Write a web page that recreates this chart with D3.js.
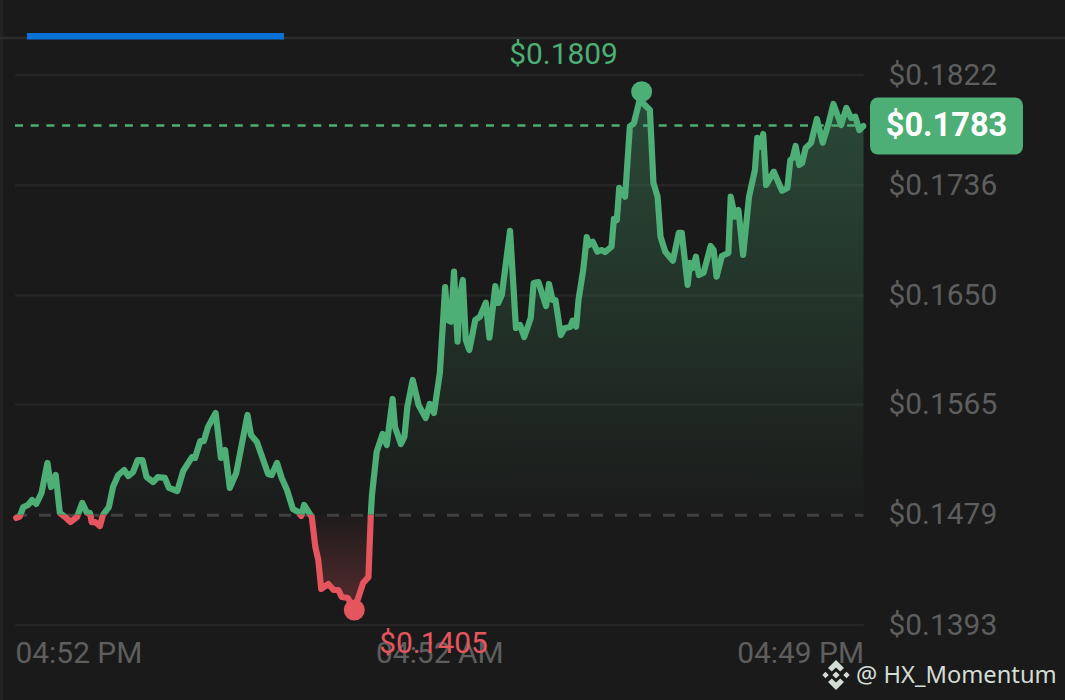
<!DOCTYPE html>
<html>
<head>
<meta charset="utf-8">
<title>Price chart</title>
<script src="https://cdn.jsdelivr.net/npm/d3@7"></script>
<style>
    html, body { margin: 0; padding: 0; background: #1a1a1a; overflow: hidden; }
    text { font-family: Roboto, sans-serif; }
</style>
</head>
<body>
<div id="chart"></div>
<script>
// minutes since the start of the 24h window
const minutes = [
    2, 8, 14, 22, 29, 36, 45, 55, 61, 69, 76, 85, 94, 105, 114, 122, 127, 130, 136, 144,
    149, 159, 166, 175, 185, 192, 200, 208, 216, 223, 234, 242, 254, 261, 275, 285, 300, 305, 314, 320,
    327, 340, 349, 356, 364, 375, 394, 400, 410, 429, 435, 444, 452, 461, 471, 480, 485, 490, 503, 509,
    514, 519, 531, 540, 548, 554, 564, 575, 590, 599, 603, 605, 613, 623, 630, 640, 644, 654, 660, 665,
    674, 684, 696, 703, 710, 720, 729, 733, 739, 744, 750, 754, 759, 764, 770, 780, 788, 798, 804, 814,
    819, 825, 839, 849, 856, 863, 874, 879, 887, 900, 905, 911, 916, 925, 932, 941, 945, 951, 955, 963,
    969, 973, 979, 987, 994, 1000, 1011, 1015, 1020, 1024, 1034, 1042, 1049, 1062, 1064, 1076, 1082, 1089, 1094, 1102,
    1115, 1125, 1130, 1140, 1144, 1149, 1154, 1159, 1167, 1179, 1184, 1189, 1198, 1209, 1213, 1220, 1226, 1234, 1244, 1254,
    1258, 1264, 1268, 1273, 1286, 1300, 1309, 1314, 1318, 1323, 1329, 1334, 1340, 1349, 1359, 1369, 1379, 1387, 1400, 1409,
    1417, 1424, 1431, 1438
];

const prices = [
    0.14765, 0.14776, 0.14850, 0.14866, 0.14905, 0.14874, 0.14960, 0.15194, 0.15006, 0.15100,
    0.14804, 0.14772, 0.14733, 0.14772, 0.14882, 0.14804, 0.14804, 0.14733, 0.14733, 0.14702,
    0.14788, 0.14850, 0.15006, 0.15100, 0.15139, 0.15092, 0.15123, 0.15217, 0.15217, 0.15084,
    0.15045, 0.15084, 0.15077, 0.14999, 0.14975, 0.15131, 0.15240, 0.15233, 0.15365, 0.15365,
    0.15474, 0.15584, 0.15233, 0.15295, 0.14999, 0.15116, 0.15568, 0.15412, 0.15357, 0.15108,
    0.15100, 0.15194, 0.15077, 0.14983, 0.14835, 0.14811, 0.14780, 0.14866, 0.14772, 0.14538,
    0.14437, 0.14211, 0.14250, 0.14203, 0.14203, 0.14148, 0.14141, 0.14047, 0.14258, 0.14304,
    0.14788, 0.14944, 0.15282, 0.15420, 0.15334, 0.15693, 0.15474, 0.15342, 0.15399, 0.15633,
    0.15841, 0.15646, 0.15545, 0.15654, 0.15584, 0.15896, 0.16566, 0.16309, 0.16296, 0.16686,
    0.16140, 0.16491, 0.16621, 0.16153, 0.16075, 0.16309, 0.16335, 0.16444, 0.16171, 0.16574,
    0.16442, 0.16504, 0.17005, 0.16247, 0.16270, 0.16176, 0.16325, 0.16598, 0.16605, 0.16418,
    0.16590, 0.16465, 0.16465, 0.16192, 0.16247, 0.16254, 0.16304, 0.16257, 0.16465, 0.16699,
    0.16956, 0.16894, 0.16920, 0.16842, 0.16855, 0.16839, 0.16882, 0.17097, 0.17089, 0.17339,
    0.17271, 0.17817, 0.17846, 0.18090, 0.18002, 0.17947, 0.17378, 0.17271, 0.16959, 0.16842,
    0.16772, 0.16988, 0.16988, 0.16582, 0.16754, 0.16715, 0.16803, 0.16660, 0.16678, 0.16886,
    0.16855, 0.16647, 0.16808, 0.16832, 0.17271, 0.17115, 0.17167, 0.16816, 0.17271, 0.17479,
    0.17729, 0.17661, 0.17760, 0.17362, 0.17466, 0.17318, 0.17339, 0.17557, 0.17573, 0.17666,
    0.17518, 0.17534, 0.17651, 0.17690, 0.17877, 0.17692, 0.17846, 0.17994, 0.17830, 0.17963,
    0.17885, 0.17895, 0.17791, 0.17822
];

const priceTicks = [0.1822, 0.1736, 0.1650, 0.1565, 0.1479, 0.1393];
const timeTicks = [0, 719, 1438];
const timeLabels = ["04:52 PM", "04:52 AM", "04:49 PM"];
const openPrice = 0.1479;
const lastPrice = 0.1783;
const watermark = "@ HX_Momentum";

const green = "#4dae76";
const red = "#e5555e";
const grey = "#5e5e5e";

const width = 1065;
const height = 700;
const left = 15;
const right = 863.5;

const points = minutes.map((m, i) => ({ minute: m, price: prices[i] }));

const svg = d3.select("#chart")
    .append("svg")
    .attr("width", width)
    .attr("height", height)
    .style("display", "block");

const xScale = d3.scaleLinear().domain([0, 1438]).range([left, right]);
const yScale = d3.scaleLinear().domain([0.1822, 0.1393]).range([75, 625]);

const defs = svg.append("defs");

// fills fade out towards the open price line
const greenFill = defs.append("linearGradient")
    .attr("id", "green-fill")
    .attr("gradientUnits", "userSpaceOnUse")
    .attr("x1", 0).attr("x2", 0)
    .attr("y1", yScale(d3.max(prices))).attr("y2", yScale(openPrice));
greenFill.append("stop").attr("offset", 0).attr("stop-color", green).attr("stop-opacity", 0.32);
greenFill.append("stop").attr("offset", 0.5).attr("stop-color", green).attr("stop-opacity", 0.17);
greenFill.append("stop").attr("offset", 1).attr("stop-color", green).attr("stop-opacity", 0.01);

const redFill = defs.append("linearGradient")
    .attr("id", "red-fill")
    .attr("gradientUnits", "userSpaceOnUse")
    .attr("x1", 0).attr("x2", 0)
    .attr("y1", yScale(openPrice)).attr("y2", yScale(d3.min(prices)));
redFill.append("stop").attr("offset", 0).attr("stop-color", red).attr("stop-opacity", 0.02);
redFill.append("stop").attr("offset", 1).attr("stop-color", red).attr("stop-opacity", 0.3);

defs.append("clipPath").attr("id", "above")
    .append("rect")
    .attr("x", 0).attr("y", 0)
    .attr("width", right + 3).attr("height", yScale(openPrice));

defs.append("clipPath").attr("id", "below")
    .append("rect")
    .attr("x", 0).attr("y", yScale(openPrice))
    .attr("width", right).attr("height", height - yScale(openPrice));

// header strip, tab and frame

svg.append("rect")
    .attr("x", 0).attr("y", 0)
    .attr("width", 3).attr("height", height)
    .attr("fill", "#222222");

svg.append("line")
    .attr("x1", 0).attr("x2", width)
    .attr("y1", 38).attr("y2", 38)
    .attr("stroke", "#2c2c2c")
    .attr("stroke-width", 2.5);

svg.append("rect")
    .attr("x", 27).attr("y", 33)
    .attr("width", 257).attr("height", 6.5)
    .attr("fill", "#0a72d6");

// grid lines

svg.append("g")
    .selectAll("line")
    .data(priceTicks.filter(d => d !== openPrice))
    .enter()
    .append("line")
    .attr("x1", left).attr("x2", right)
    .attr("y1", d => yScale(d)).attr("y2", d => yScale(d))
    .attr("stroke", "#252525")
    .attr("stroke-width", 2.5);

svg.append("line")
    .attr("x1", left).attr("x2", right)
    .attr("y1", yScale(openPrice) + 0.5).attr("y2", yScale(openPrice) + 0.5)
    .attr("stroke", "#3f3f3f")
    .attr("stroke-width", 3)
    .attr("stroke-dasharray", "12 12");

// area and line, split at the open price

const area = d3.area()
    .x(d => xScale(d.minute))
    .y0(yScale(openPrice))
    .y1(d => yScale(d.price));

const line = d3.line()
    .x(d => xScale(d.minute))
    .y(d => yScale(d.price));

svg.append("path")
    .attr("d", area(points))
    .attr("fill", "url(#green-fill)")
    .attr("clip-path", "url(#above)");

svg.append("path")
    .attr("d", area(points))
    .attr("fill", "url(#red-fill)")
    .attr("clip-path", "url(#below)");

[["above", green], ["below", red]].forEach(([clip, colour]) => {
    svg.append("g")
        .attr("clip-path", `url(#${clip})`)
        .append("path")
        .attr("d", line(points))
        .attr("fill", "none")
        .attr("stroke", colour)
        .attr("stroke-width", 6.2)
        .attr("stroke-linejoin", "round")
        .attr("stroke-linecap", "round");
});

svg.append("line")
    .attr("x1", left).attr("x2", right)
    .attr("y1", yScale(lastPrice) + 0.5).attr("y2", yScale(lastPrice) + 0.5)
    .attr("stroke", green)
    .attr("stroke-width", 2.5)
    .attr("stroke-dasharray", "8 7.7");

// high and low markers

const high = points[d3.greatestIndex(points, d => d.price)];
const low = points[d3.leastIndex(points, d => d.price)];

svg.append("circle")
    .attr("cx", xScale(high.minute))
    .attr("cy", yScale(high.price))
    .attr("r", 10.5)
    .attr("fill", green);

svg.append("circle")
    .attr("cx", xScale(low.minute))
    .attr("cy", yScale(low.price))
    .attr("r", 10.5)
    .attr("fill", red);

// axes

const yAxis = d3.axisRight(yScale)
    .tickValues(priceTicks)
    .tickFormat(d3.format("$.4f"))
    .tickSize(0)
    .tickPadding(0);

svg.append("g")
    .attr("id", "y-axis")
    .attr("transform", "translate(888.5, -0.5)")
    .call(yAxis)
    .call(g => g.select(".domain").remove())
    .call(g => g.selectAll("text")
        .attr("fill", grey)
        .style("font-size", "29.9px")
        .style("font-family", "Roboto, sans-serif"));

const xAxis = d3.axisBottom(xScale)
    .tickValues(timeTicks)
    .tickFormat((d, i) => timeLabels[i])
    .tickSize(0)
    .tickPadding(0);

svg.append("g")
    .attr("id", "x-axis")
    .attr("transform", "translate(0, 641.5)")
    .call(xAxis)
    .call(g => g.select(".domain").remove())
    .call(g => g.selectAll("text")
        .attr("fill", grey)
        .attr("text-anchor", (d, i) => ["start", "middle", "end"][i])
        .style("font-size", "29.9px")
        .style("font-family", "Roboto, sans-serif"));

// high / low labels and current price badge

svg.append("text")
    .attr("x", 563.5)
    .attr("y", 64)
    .attr("text-anchor", "middle")
    .attr("fill", green)
    .style("font-size", "29.9px")
    .text(d3.format("$.4f")(high.price));

svg.append("text")
    .attr("x", 433.5)
    .attr("y", 653)
    .attr("text-anchor", "middle")
    .attr("fill", red)
    .style("font-size", "29.9px")
    .text(d3.format("$.4f")(low.price));

svg.append("rect")
    .attr("x", 870).attr("y", 97.5)
    .attr("width", 153).attr("height", 57)
    .attr("rx", 8)
    .attr("fill", green);

svg.append("text")
    .attr("x", 946.5)
    .attr("y", 136)
    .attr("text-anchor", "middle")
    .attr("fill", "#ffffff")
    .style("font-size", "32.6px")
    .style("font-weight", 700)
    .text(d3.format("$.4f")(lastPrice));

// watermark with the diamond logo

const logo = svg.append("g")
    .attr("transform", "translate(836, 675)")
    .attr("fill", "#d3ddd6");

logo.append("path")
    .attr("d", "M0 -15 L8 -7 L4.2 -3.6 L0 -7.4 L-4.2 -3.6 L-8 -7 Z");
logo.append("path")
    .attr("d", "M0 15 L8 7 L4.2 3.6 L0 7.4 L-4.2 3.6 L-8 7 Z");
logo.append("path")
    .attr("d", "M0 -3.6 L3.6 0 L0 3.6 L-3.6 0 Z");
logo.append("path")
    .attr("d", "M-10.5 -3.2 L-7.3 0 L-10.5 3.2 L-13.7 0 Z");
logo.append("path")
    .attr("d", "M10.5 -3.2 L13.7 0 L10.5 3.2 L7.3 0 Z");

svg.append("text")
    .attr("x", 856)
    .attr("y", 683)
    .attr("fill", "#d3ddd6")
    .style("font-size", "23.7px")
    .style("font-family", "'Noto Sans', sans-serif")
    .text(watermark);
</script>
</body>
</html>
